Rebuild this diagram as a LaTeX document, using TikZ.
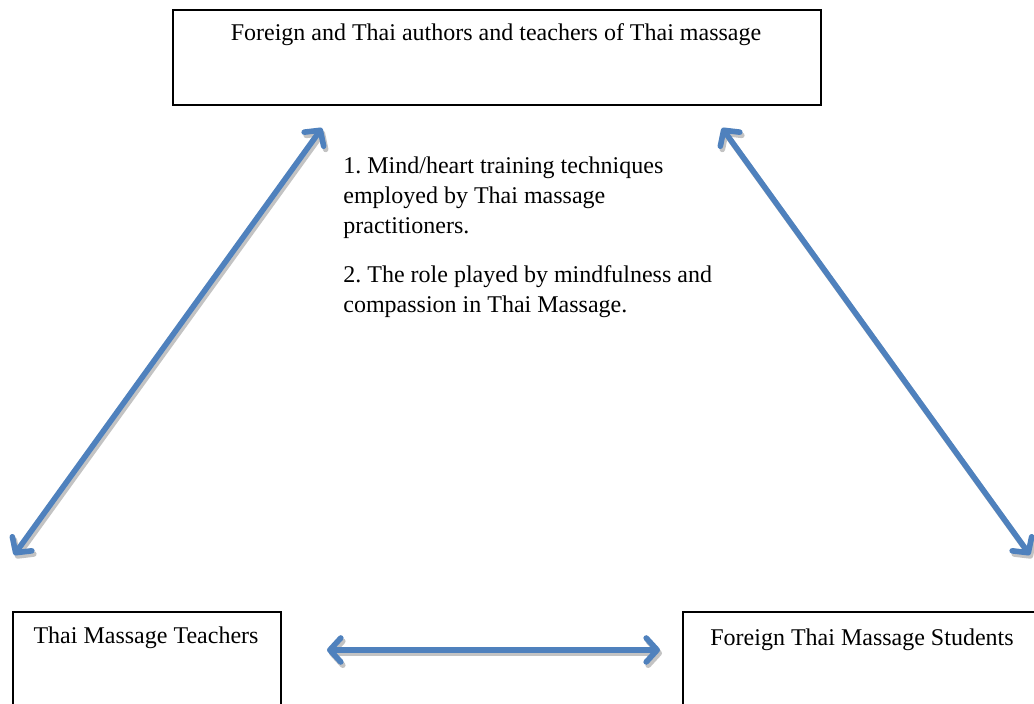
\documentclass[tikz,border=0pt]{standalone}
\usepackage{fontspec}
\setmainfont{Liberation Serif}
\usetikzlibrary{arrows.meta}
\definecolor{arrowblue}{RGB}{79,129,189}
\definecolor{shadowgray}{RGB}{195,195,195}
\frenchspacing
\begin{document}
\begin{tikzpicture}[x=0.5pt,y=-0.5pt,
  box/.style={draw=black, line width=0.85pt, rectangle, anchor=north west, inner sep=0pt},
  lbl/.style={font=\fontsize{12}{15}\selectfont, inner sep=0pt, anchor=base},
  body/.style={font=\fontsize{12}{15}\selectfont, inner sep=0pt, align=left, anchor=north west},
  link/.style={line width=2.8pt, line cap=round,
    {Straight Barb[length=5.5pt,width=12pt,line cap=round,line join=round]}-{Straight Barb[length=5.5pt,width=12pt,line cap=round,line join=round]}},
  link shadow/.style={link, draw=shadowgray, transform canvas={xshift=1pt,yshift=-1.6pt}},
  link main/.style={link, draw=arrowblue}]
\useasboundingbox (0,0) rectangle (1034,704);
\clip (0,0) rectangle (1034,704);
% boxes
\node[box, minimum width=324pt, minimum height=47.5pt] (authors) at (172,9) {};
\node[box, minimum width=134pt, minimum height=70pt] (teachers) at (12,611) {};
\node[box, minimum width=180pt, minimum height=70pt] (students) at (682,611) {};
% box texts
\node[lbl] (authorsText) at (496,41) {Foreign and Thai authors and teachers of Thai massage};
\node[lbl] (teachersText) at (146,644) {Thai Massage Teachers};
\node[lbl] (studentsText) at (862,646) {Foreign Thai Massage Students};
% body text
\node[body] (p1) at (343,156) {1. Mind/heart training techniques\\employed by Thai massage\\practitioners.};
\node[body] (p2) at (343,265) {2. The role played by mindfulness and\\compassion in Thai Massage.};
% arrow end points
\coordinate (lt) at (322,128);
\coordinate (lb) at (14,555);
\coordinate (rt) at (722,128);
\coordinate (rb) at (1030,555);
\coordinate (hl) at (327,650);
\coordinate (hr) at (660,650);
% shadows
\draw[link shadow] (lt) -- (lb);
\draw[link shadow] (rt) -- (rb);
\draw[link shadow] (hl) -- (hr);
% arrows
\draw[link main] (lt) -- (lb);
\draw[link main] (rt) -- (rb);
\draw[link main] (hl) -- (hr);
\end{tikzpicture}
\end{document}
